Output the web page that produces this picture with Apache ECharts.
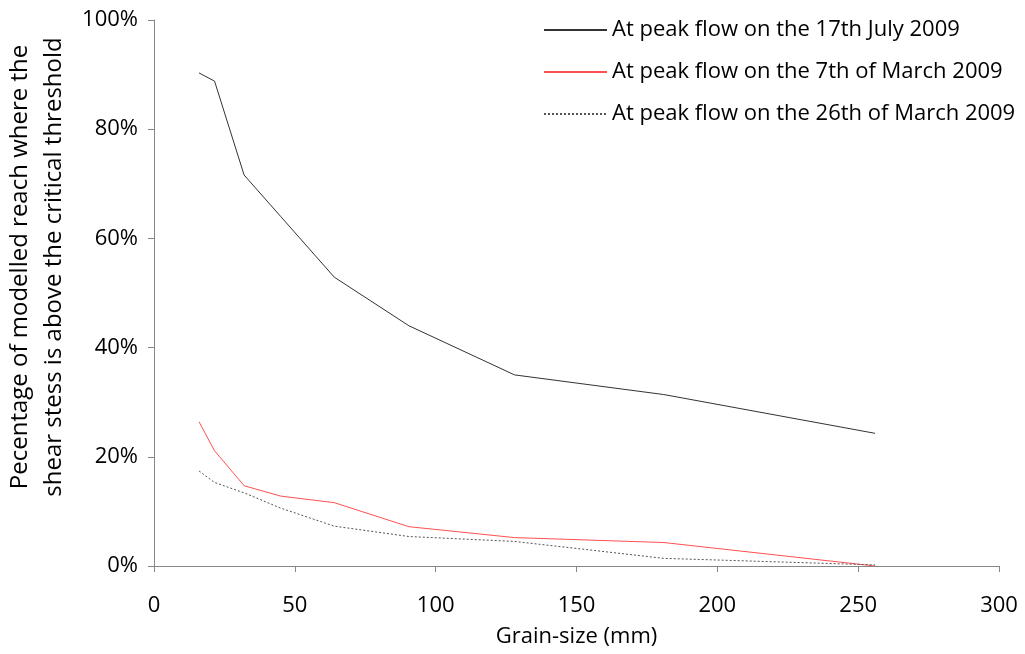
<!DOCTYPE html>
<html>
<head>
<meta charset="utf-8">
<script src="https://cdn.jsdelivr.net/npm/echarts@6/dist/echarts.min.js"></script>
<style>html,body{margin:0;padding:0;background:#fff;}#c{width:1025px;height:654px;}</style>
</head>
<body>
<div id="c"></div>
<script>
const grainSize = [16, 21.5, 32, 45, 64, 90.5, 128, 181, 256];
const july17 = [90.3, 88.8, 71.6, 64.0, 52.9, 44.0, 35.0, 31.4, 24.3];
const march7 = [26.4, 21.1, 14.7, 12.8, 11.6, 7.2, 5.2, 4.3, 0.0];
const march26 = [17.4, 15.3, 13.4, 10.6, 7.3, 5.4, 4.5, 1.4, 0.2];
const seriesNames = ['At peak flow on the 17th July 2009', 'At peak flow on the 7th of March 2009', 'At peak flow on the 26th of March 2009'];
const xTitle = 'Grain-size (mm)';
const yTitle = 'Pecentage of modelled reach where the\nshear stess is above the critical threshold';

const FONT = 'Open Sans';
const pair = (ys) => grainSize.map((x, i) => [x, ys[i]]);
const chart = echarts.init(document.getElementById('c'), null, {renderer: 'canvas'});
chart.setOption({
  animation: false,
  backgroundColor: '#fff',
  textStyle: {fontFamily: FONT},
  grid: {left: 154, right: 26, top: 20, bottom: 88, containLabel: false, outerBoundsMode: 'none'},
  legend: {
    orient: 'vertical', left: 538, top: 14, itemWidth: 63, itemHeight: 14, itemGap: 20,
    itemStyle: {opacity: 0},
    textStyle: {fontFamily: FONT, fontSize: 22, color: '#000'},
    data: seriesNames
  },
  xAxis: {
    type: 'value', min: 0, max: 300, interval: 50,
    name: xTitle, nameLocation: 'middle', nameGap: 60,
    nameTextStyle: {fontFamily: FONT, fontSize: 22, color: '#000'},
    axisLine: {lineStyle: {color: '#868686', width: 1}},
    axisTick: {show: true, length: 6, lineStyle: {color: '#868686'}},
    axisLabel: {fontFamily: FONT, fontSize: 22, color: '#000', margin: 29},
    splitLine: {show: false}
  },
  yAxis: {
    type: 'value', min: 0, max: 100, interval: 20,
    name: yTitle, nameLocation: 'middle', nameGap: 78, nameRotate: 90,
    nameTextStyle: {fontFamily: FONT, fontSize: 24, color: '#000', lineHeight: 34, align: 'center', padding: [0, 0, 0, 52]},
    axisLine: {show: true, lineStyle: {color: '#868686', width: 1}},
    axisTick: {show: true, length: 6, lineStyle: {color: '#868686'}},
    axisLabel: {fontFamily: FONT, fontSize: 22, color: '#000', margin: 16, formatter: '{value}%'},
    splitLine: {show: false}
  },
  series: [
    {name: seriesNames[0], type: 'line', data: pair(july17), symbol: 'none', color: '#333333', lineStyle: {color: '#333333', width: 1}},
    {name: seriesNames[1], type: 'line', data: pair(march7), symbol: 'none', color: '#ff5050', lineStyle: {color: '#ff5050', width: 1}},
    {name: seriesNames[2], type: 'line', data: pair(march26), symbol: 'none', color: '#555555', lineStyle: {color: '#555555', width: 1, type: [2, 2]}}
  ]
});
</script>
</body>
</html>
